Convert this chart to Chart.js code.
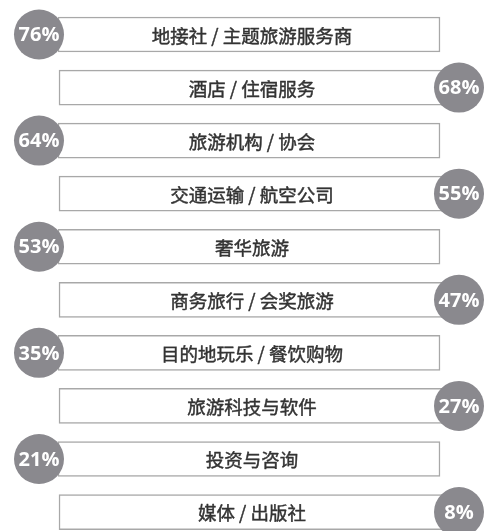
<!DOCTYPE html>
<html>
<head>
<meta charset="utf-8">
<script src="https://cdn.jsdelivr.net/npm/chart.js@4/dist/chart.umd.min.js"></script>
<style>
  html, body { margin: 0; padding: 0; background: #ffffff; overflow: hidden; }
  #wrap { position: relative; width: 484px; height: 531px; }
</style>
</head>
<body>
<div id="wrap"><canvas id="c"></canvas></div>
<script>
// ---- data ----
const categories = [
  '地接社 / 主题旅游服务商',
  '酒店 / 住宿服务',
  '旅游机构 / 协会',
  '交通运输 / 航空公司',
  '奢华旅游',
  '商务旅行 / 会奖旅游',
  '目的地玩乐 / 餐饮购物',
  '旅游科技与软件',
  '投资与咨询',
  '媒体 / 出版社'
];
const shares = [76, 68, 64, 55, 53, 47, 35, 27, 21, 8];

// ---- layout constants (not data) ----
const BOX_LEFT_ROW = [58, 440];   // rows with the circle on the left
const BOX_RIGHT_ROW = [59, 459];  // rows with the circle on the right
const CIRCLE_X_LEFT = 39;
const CIRCLE_X_RIGHT = 459;
const TEXT_X = 252;
const TEXT_MAX_W = 207;

const isLeft = i => i % 2 === 0;

const boxData = categories.map((c, i) => ({ y: i, x: isLeft(i) ? BOX_LEFT_ROW : BOX_RIGHT_ROW }));
const circleData = shares.map((v, i) => ({ y: i, x: isLeft(i) ? CIRCLE_X_LEFT : CIRCLE_X_RIGHT }));

const labelPlugin = {
  id: 'labels',
  afterDatasetsDraw(chart) {
    const ctx = chart.ctx;
    const xs = chart.scales.x;
    ctx.save();
    ctx.textAlign = 'center';
    ctx.textBaseline = 'middle';
    const barMeta = chart.getDatasetMeta(1);
    ctx.fillStyle = '#333333';
    ctx.strokeStyle = '#333333';
    ctx.lineWidth = 0.45;
    ctx.lineJoin = 'round';
    ctx.font = '18.5px "Noto Sans CJK SC", "Noto Sans", sans-serif';
    barMeta.data.forEach((el, i) => {
      const tx = xs.getPixelForValue(TEXT_X);
      ctx.fillText(categories[i], tx, el.y + 1, TEXT_MAX_W);
      ctx.strokeText(categories[i], tx, el.y + 1, TEXT_MAX_W);
    });
    const ptMeta = chart.getDatasetMeta(0);
    ctx.fillStyle = '#ffffff';
    ctx.font = 'bold 20px "Open Sans", "DejaVu Sans", sans-serif';
    ptMeta.data.forEach((el, i) => {
      ctx.fillText(shares[i] + '%', el.x, el.y + 1);
    });
    ctx.restore();
  }
};

new Chart(document.getElementById('c'), {
  type: 'bar',
  data: {
    datasets: [
      {
        type: 'scatter',
        data: circleData,
        pointRadius: 25,
        pointHoverRadius: 25,
        pointBackgroundColor: '#8a898e',
        pointBorderWidth: 0,
        pointBorderColor: 'rgba(0,0,0,0)',
        clip: false
      },
      {
        type: 'bar',
        data: boxData,
        backgroundColor: '#ffffff',
        borderColor: '#a8a8a8',
        borderWidth: 1.5,
        borderSkipped: false,
        barThickness: 35
      }
    ]
  },
  options: {
    indexAxis: 'y',
    responsive: true,
    maintainAspectRatio: false,
    devicePixelRatio: 1,
    animation: false,
    events: [],
    layout: { padding: 0, autoPadding: false },
    plugins: { legend: { display: false }, tooltip: { enabled: false } },
    scales: {
      x: { type: 'linear', min: 0, max: 484, display: false, offset: false, grace: 0 },
      y: { type: 'linear', min: -0.650, max: 9.357, reverse: true, display: false, offset: false, grace: 0 }
    }
  },
  plugins: [labelPlugin]
});
</script>
</body>
</html>
